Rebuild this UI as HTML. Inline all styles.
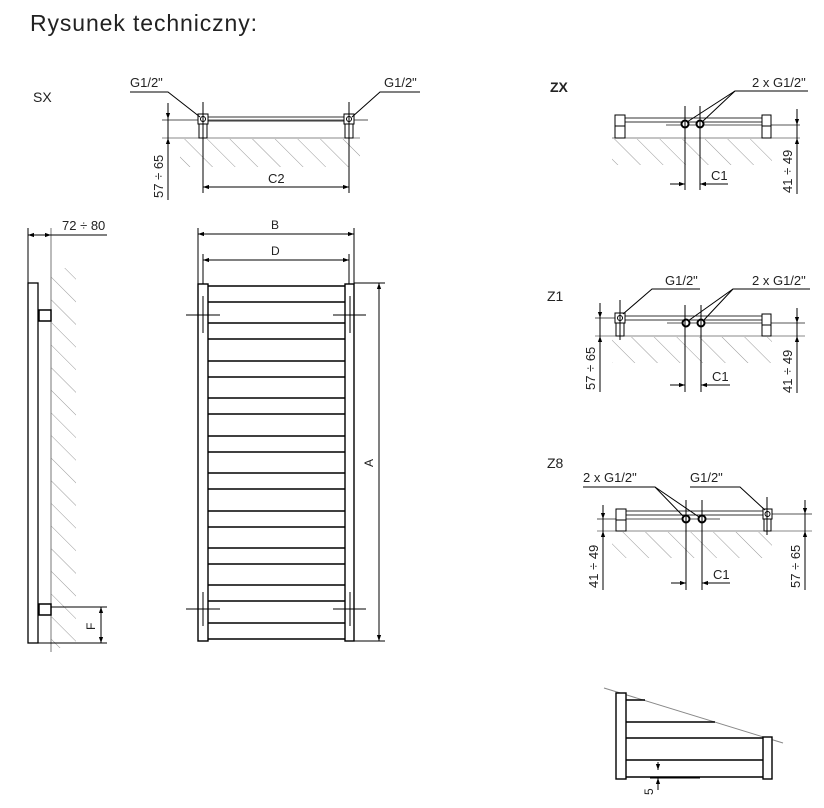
<!DOCTYPE html>
<html><head><meta charset="utf-8"><style>
html,body{margin:0;padding:0;background:#fff;width:824px;height:808px;overflow:hidden}
svg{display:block}
text{font-family:"Liberation Sans","DejaVu Sans",sans-serif;fill:#222}
</style></head><body>
<svg width="824" height="808" viewBox="0 0 824 808" xmlns="http://www.w3.org/2000/svg">
<defs>
<pattern id="h" width="16" height="16" patternUnits="userSpaceOnUse" patternTransform="rotate(-45)">
<line x1="0" y1="0" x2="0" y2="16" stroke="#999" stroke-width="1"/>
</pattern>
<marker id="a" viewBox="0 0 10 10" refX="10" refY="5" markerWidth="6" markerHeight="6" orient="auto-start-reverse"><path d="M0,1.5 L10,5 L0,8.5 z" fill="#000"/></marker>
</defs>
<text x="30" y="31" font-size="23" textLength="227" fill="#333">Rysunek techniczny:</text>

<!-- SX -->
<text x="33" y="102" font-size="14">SX</text>
<rect x="180" y="139" width="180" height="28" fill="url(#h)"/>
<line x1="162" y1="138" x2="360" y2="138" stroke="#888" stroke-width="1"/>
<line x1="162" y1="120" x2="368" y2="120" stroke="#555" stroke-width="1"/>
<rect x="208" y="117" width="136" height="4" fill="none" stroke="#333"/>
<rect x="198" y="114" width="10" height="10" fill="#fff" stroke="#000"/><circle cx="203" cy="119" r="2.5" fill="none" stroke="#000"/>
<rect x="344" y="114" width="10" height="10" fill="#fff" stroke="#000"/><circle cx="349" cy="119" r="2.5" fill="none" stroke="#000"/>
<rect x="199" y="124" width="8" height="14" fill="#fff" stroke="#000"/>
<rect x="345" y="124" width="8" height="14" fill="#fff" stroke="#000"/>
<line x1="203" y1="102" x2="203" y2="193" stroke="#000"/>
<line x1="349" y1="102" x2="349" y2="193" stroke="#000"/>
<line x1="203" y1="187" x2="349" y2="187" stroke="#000" marker-start="url(#a)" marker-end="url(#a)"/>
<text x="268" y="183" font-size="13">C2</text>
<line x1="168" y1="103" x2="168" y2="200" stroke="#000"/>
<line x1="168" y1="103" x2="168" y2="119" stroke="#000" marker-end="url(#a)"/>
<line x1="168" y1="155" x2="168" y2="138" stroke="#000" marker-end="url(#a)"/>
<text transform="translate(163,198) rotate(-90)" font-size="13">57 ÷ 65</text>
<text x="130" y="87" font-size="13">G1/2"</text>
<polyline points="130,92 168,92 200,117" fill="none" stroke="#000"/>
<text x="384" y="87" font-size="13">G1/2"</text>
<polyline points="420,92 380,92 352,117" fill="none" stroke="#000"/>

<!-- side view -->
<rect x="51" y="268" width="25" height="380" fill="url(#h)"/>
<line x1="51" y1="228" x2="51" y2="652" stroke="#777"/>
<rect x="28" y="283" width="10" height="360" fill="#fff" stroke="#000" stroke-width="1.3"/>
<rect x="39" y="310" width="12" height="11" fill="#fff" stroke="#000" stroke-width="1.5"/>
<rect x="39" y="604" width="12" height="11" fill="#fff" stroke="#000" stroke-width="1.5"/>
<line x1="28" y1="228" x2="28" y2="283" stroke="#000"/>
<line x1="28" y1="235" x2="51" y2="235" stroke="#000" marker-start="url(#a)" marker-end="url(#a)"/>
<line x1="51" y1="235" x2="107" y2="235" stroke="#000"/>
<text x="62" y="230" font-size="13">72 ÷ 80</text>
<line x1="51" y1="607" x2="107" y2="607" stroke="#000"/>
<line x1="28" y1="643" x2="107" y2="643" stroke="#000"/>
<line x1="101" y1="607" x2="101" y2="643" stroke="#000" marker-start="url(#a)" marker-end="url(#a)"/>
<text transform="translate(95,630) rotate(-90)" font-size="12">F</text>

<!-- front view -->
<g stroke="#000" stroke-width="1.6">
<line x1="208" y1="286" x2="345" y2="286"/><line x1="208" y1="302" x2="345" y2="302"/>
<line x1="208" y1="323" x2="345" y2="323"/><line x1="208" y1="339" x2="345" y2="339"/>
<line x1="208" y1="361" x2="345" y2="361"/><line x1="208" y1="377" x2="345" y2="377"/>
<line x1="208" y1="398" x2="345" y2="398"/><line x1="208" y1="414" x2="345" y2="414"/>
<line x1="208" y1="436" x2="345" y2="436"/><line x1="208" y1="452" x2="345" y2="452"/>
<line x1="208" y1="473" x2="345" y2="473"/><line x1="208" y1="489" x2="345" y2="489"/>
<line x1="208" y1="511" x2="345" y2="511"/><line x1="208" y1="527" x2="345" y2="527"/>
<line x1="208" y1="548" x2="345" y2="548"/><line x1="208" y1="564" x2="345" y2="564"/>
<line x1="208" y1="585" x2="345" y2="585"/><line x1="208" y1="601" x2="345" y2="601"/>
<line x1="208" y1="623" x2="345" y2="623"/><line x1="208" y1="639" x2="345" y2="639"/>
</g>
<rect x="198" y="284" width="10" height="357" fill="#fff" stroke="#000" stroke-width="1.4"/>
<rect x="345" y="284" width="9" height="357" fill="#fff" stroke="#000" stroke-width="1.4"/>
<g stroke="#000">
<line x1="186" y1="315" x2="220" y2="315"/><line x1="203" y1="296" x2="203" y2="333"/>
<line x1="333" y1="315" x2="366" y2="315"/><line x1="350" y1="296" x2="350" y2="333"/>
<line x1="186" y1="609" x2="220" y2="609"/><line x1="203" y1="592" x2="203" y2="626"/>
<line x1="333" y1="609" x2="366" y2="609"/><line x1="350" y1="592" x2="350" y2="626"/>
<line x1="198" y1="228" x2="198" y2="284"/><line x1="354" y1="228" x2="354" y2="284"/>
<line x1="203" y1="254" x2="203" y2="284"/><line x1="349" y1="254" x2="349" y2="284"/>
<line x1="198" y1="234" x2="354" y2="234" marker-start="url(#a)" marker-end="url(#a)"/>
<line x1="203" y1="260" x2="349" y2="260" marker-start="url(#a)" marker-end="url(#a)"/>
<line x1="354" y1="283" x2="385" y2="283"/><line x1="354" y1="641" x2="385" y2="641"/>
<line x1="379" y1="283" x2="379" y2="641" marker-start="url(#a)" marker-end="url(#a)"/>
</g>
<text x="271" y="229" font-size="12">B</text>
<text x="271" y="255" font-size="12">D</text>
<text transform="translate(373,467) rotate(-90)" font-size="12">A</text>

<!-- ZX -->
<text x="550" y="92" font-size="14" font-weight="bold">ZX</text>
<rect x="612" y="139" width="160" height="26" fill="url(#h)"/>
<line x1="612" y1="138" x2="800" y2="138" stroke="#888"/>
<rect x="625" y="118" width="137" height="4" fill="none" stroke="#333"/>
<line x1="666" y1="125" x2="800" y2="125" stroke="#555"/>
<rect x="615" y="115" width="10" height="11" fill="#fff" stroke="#000"/><rect x="615" y="126" width="10" height="12" fill="#fff" stroke="#000"/>
<rect x="762" y="115" width="9" height="11" fill="#fff" stroke="#000"/><rect x="762" y="126" width="9" height="12" fill="#fff" stroke="#000"/>
<circle cx="685" cy="124" r="3.5" fill="#fff" stroke="#000" stroke-width="2"/>
<circle cx="700" cy="124" r="3.5" fill="#fff" stroke="#000" stroke-width="2"/>
<line x1="685" y1="106" x2="685" y2="190" stroke="#000"/><line x1="700" y1="106" x2="700" y2="190" stroke="#000"/>
<line x1="670" y1="184" x2="685" y2="184" stroke="#000" marker-end="url(#a)"/>
<line x1="715" y1="184" x2="700" y2="184" stroke="#000" marker-end="url(#a)"/>
<line x1="700" y1="184" x2="728" y2="184" stroke="#000"/>
<text x="711" y="180" font-size="13">C1</text>
<text x="752" y="87" font-size="13">2 x G1/2"</text>
<polyline points="808,91 735,91 687,122" fill="none" stroke="#000"/><line x1="735" y1="91" x2="702" y2="122" stroke="#000"/>
<line x1="797" y1="109" x2="797" y2="194" stroke="#000"/>
<line x1="797" y1="110" x2="797" y2="125" stroke="#000" marker-end="url(#a)"/>
<line x1="797" y1="155" x2="797" y2="138" stroke="#000" marker-end="url(#a)"/>
<text transform="translate(792,193) rotate(-90)" font-size="13">41 ÷ 49</text>

<!-- Z1 -->
<text x="547" y="301" font-size="14">Z1</text>
<rect x="612" y="337" width="160" height="26" fill="url(#h)"/>
<line x1="595" y1="336" x2="805" y2="336" stroke="#888"/>
<line x1="595" y1="318" x2="625" y2="318" stroke="#555"/>
<rect x="625" y="316" width="137" height="4" fill="none" stroke="#333"/>
<line x1="667" y1="323" x2="805" y2="323" stroke="#555"/>
<rect x="615" y="313" width="10" height="10" fill="#fff" stroke="#000"/><circle cx="620" cy="318" r="2.5" fill="none" stroke="#000"/>
<rect x="616" y="323" width="8" height="13" fill="#fff" stroke="#000"/>
<rect x="762" y="314" width="9" height="11" fill="#fff" stroke="#000"/><rect x="762" y="325" width="9" height="11" fill="#fff" stroke="#000"/>
<line x1="620" y1="300" x2="620" y2="340" stroke="#000"/>
<circle cx="686" cy="323" r="3.5" fill="#fff" stroke="#000" stroke-width="2"/>
<circle cx="701" cy="323" r="3.5" fill="#fff" stroke="#000" stroke-width="2"/>
<line x1="685" y1="305" x2="685" y2="392" stroke="#000"/><line x1="701" y1="305" x2="701" y2="392" stroke="#000"/>
<line x1="670" y1="385" x2="685" y2="385" stroke="#000" marker-end="url(#a)"/>
<line x1="716" y1="385" x2="701" y2="385" stroke="#000" marker-end="url(#a)"/>
<line x1="701" y1="385" x2="730" y2="385" stroke="#000"/>
<text x="712" y="381" font-size="13">C1</text>
<text x="665" y="285" font-size="13">G1/2"</text>
<polyline points="700,289 652,289 623,314" fill="none" stroke="#000"/>
<text x="752" y="285" font-size="13">2 x G1/2"</text>
<polyline points="810,289 733,289 688,321" fill="none" stroke="#000"/><line x1="733" y1="289" x2="703" y2="321" stroke="#000"/>
<line x1="600" y1="303" x2="600" y2="392" stroke="#000"/>
<line x1="600" y1="304" x2="600" y2="318" stroke="#000" marker-end="url(#a)"/>
<line x1="600" y1="352" x2="600" y2="336" stroke="#000" marker-end="url(#a)"/>
<text transform="translate(595,390) rotate(-90)" font-size="13">57 ÷ 65</text>
<line x1="797" y1="308" x2="797" y2="393" stroke="#000"/>
<line x1="797" y1="309" x2="797" y2="323" stroke="#000" marker-end="url(#a)"/>
<line x1="797" y1="352" x2="797" y2="336" stroke="#000" marker-end="url(#a)"/>
<text transform="translate(792,393) rotate(-90)" font-size="13">41 ÷ 49</text>

<!-- Z8 -->
<text x="547" y="468" font-size="14">Z8</text>
<rect x="612" y="532" width="160" height="26" fill="url(#h)"/>
<line x1="597" y1="531" x2="812" y2="531" stroke="#888"/>
<line x1="597" y1="519" x2="720" y2="519" stroke="#555"/>
<rect x="626" y="511" width="137" height="4" fill="none" stroke="#333"/>
<line x1="772" y1="514" x2="812" y2="514" stroke="#555"/>
<rect x="616" y="509" width="10" height="11" fill="#fff" stroke="#000"/><rect x="616" y="520" width="10" height="11" fill="#fff" stroke="#000"/>
<rect x="763" y="509" width="9" height="10" fill="#fff" stroke="#000"/><circle cx="767.5" cy="514" r="2.5" fill="none" stroke="#000"/>
<rect x="764" y="519" width="7" height="12" fill="#fff" stroke="#000"/>
<line x1="767" y1="497" x2="767" y2="535" stroke="#000"/>
<circle cx="686" cy="519" r="3.5" fill="#fff" stroke="#000" stroke-width="2"/>
<circle cx="702" cy="519" r="3.5" fill="#fff" stroke="#000" stroke-width="2"/>
<line x1="686" y1="500" x2="686" y2="590" stroke="#000"/><line x1="702" y1="500" x2="702" y2="590" stroke="#000"/>
<line x1="671" y1="583" x2="686" y2="583" stroke="#000" marker-end="url(#a)"/>
<line x1="717" y1="583" x2="702" y2="583" stroke="#000" marker-end="url(#a)"/>
<line x1="702" y1="583" x2="730" y2="583" stroke="#000"/>
<text x="713" y="579" font-size="13">C1</text>
<text x="583" y="482" font-size="13">2 x G1/2"</text>
<polyline points="583,487 655,487 684,517" fill="none" stroke="#000"/><line x1="655" y1="487" x2="699" y2="517" stroke="#000"/>
<text x="690" y="482" font-size="13">G1/2"</text>
<polyline points="690,487 740,487 765,510" fill="none" stroke="#000"/>
<line x1="603" y1="505" x2="603" y2="590" stroke="#000"/>
<line x1="603" y1="505" x2="603" y2="519" stroke="#000" marker-end="url(#a)"/>
<line x1="603" y1="547" x2="603" y2="531" stroke="#000" marker-end="url(#a)"/>
<text transform="translate(598,588) rotate(-90)" font-size="13">41 ÷ 49</text>
<line x1="805" y1="500" x2="805" y2="590" stroke="#000"/>
<line x1="805" y1="500" x2="805" y2="514" stroke="#000" marker-end="url(#a)"/>
<line x1="805" y1="547" x2="805" y2="531" stroke="#000" marker-end="url(#a)"/>
<text transform="translate(800,588) rotate(-90)" font-size="13">57 ÷ 65</text>

<!-- bottom detail -->
<line x1="604" y1="688" x2="783" y2="743" stroke="#888"/>
<g stroke="#000" stroke-width="1.5">
<line x1="626" y1="700" x2="645" y2="700"/>
<line x1="626" y1="722" x2="715" y2="722"/>
<line x1="626" y1="738" x2="763" y2="738"/>
<line x1="626" y1="760" x2="763" y2="760"/>
<line x1="626" y1="777" x2="763" y2="777"/>
</g>
<rect x="616" y="693" width="10" height="86" fill="#fff" stroke="#000" stroke-width="1.4"/>
<rect x="763" y="737" width="9" height="42" fill="#fff" stroke="#000" stroke-width="1.4"/>
<line x1="658" y1="762" x2="658" y2="770" stroke="#000" marker-end="url(#a)"/>
<line x1="658" y1="790" x2="658" y2="778" stroke="#000" marker-end="url(#a)"/>
<line x1="650" y1="778" x2="700" y2="778" stroke="#000"/>
<text transform="translate(653,795) rotate(-90)" font-size="12">5</text>
</svg>
</body></html>
